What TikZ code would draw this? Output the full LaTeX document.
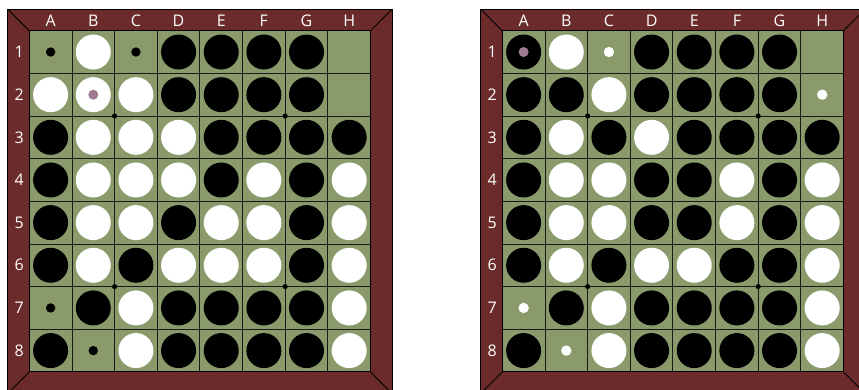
\documentclass[tikz,border=0pt]{standalone}
\usepackage{fontspec}
\setmainfont{Open Sans}
\definecolor{felt}{RGB}{138,154,107}
\definecolor{wood}{RGB}{107,43,43}
\definecolor{pinkdot}{RGB}{160,122,145}
\tikzset{
  frameline/.style={draw=black, line width=0.9pt},
  gridline/.style={draw=black!90, line width=0.9pt},
  lbl/.style={text=white, font=\fontsize{16}{16}\selectfont, inner sep=0pt, anchor=center},
}
\newcommand\othelloboard[3]{%
  \begin{scope}[shift={(#2,30.7)}]
    \def\cs{42.65}
    \fill[wood] (-21.5,-21.5) rectangle (362.7,362.7);
    \draw[frameline] (-21.5,-21.5) rectangle (362.7,362.7);
    \fill[felt] (0,0) rectangle (341.2,341.2);
    \foreach \i in {1,...,7} {
      \draw[gridline] ({\i*\cs},0) -- ({\i*\cs},341.2);
      \draw[gridline] (0,{\i*\cs}) -- (341.2,{\i*\cs});
    }
    \draw[frameline] (0,0) rectangle (341.2,341.2);
    \draw[frameline] (-21.5,-21.5) -- (0,0);
    \draw[frameline] (362.7,-21.5) -- (341.2,0);
    \draw[frameline] (-21.5,362.7) -- (0,341.2);
    \draw[frameline] (362.7,362.7) -- (341.2,341.2);
    \foreach \gx/\gy in {2/2,6/2,2/6,6/6}
      \fill[black] ({\gx*\cs},{\gy*\cs}) circle (2.6pt);
    \foreach \L [count=\c] in {A,B,C,D,E,F,G,H}
      \node[lbl] (#1-col\L) at ({(\c-0.5)*\cs},-10) {\L};
    \foreach \r in {1,...,8}
      \node[lbl] (#1-row\r) at (-10,{(\r-0.5)*\cs}) {\r};
    \foreach \row [count=\r] in {#3} {
      \foreach \v [count=\c] in \row {
        \coordinate (#1-\c-\r) at ({(\c-0.5)*\cs},{(\r-0.5)*\cs});
        \if b\v \fill[black] (#1-\c-\r) circle (17.5pt);\fi
        \if w\v \fill[white] (#1-\c-\r) circle (17.5pt);\fi
        \if d\v \fill[black] (#1-\c-\r) circle (4.7pt);\fi
        \if o\v \fill[white] (#1-\c-\r) circle (5.2pt);\fi
        \if p\v \fill[white] (#1-\c-\r) circle (17.5pt);
                \fill[pinkdot] (#1-\c-\r) circle (5pt);\fi
        \if q\v \fill[black] (#1-\c-\r) circle (17.5pt);
                \fill[pinkdot] (#1-\c-\r) circle (5pt);\fi
      }
    }
  \end{scope}}
\begin{document}
\begin{tikzpicture}[x=1pt,y=-1pt]
  \useasboundingbox (0,0) rectangle (859,389);
  \clip (0,0) rectangle (859,389);
  \othelloboard{L}{29.3}{{d,w,d,b,b,b,b,e},{w,p,w,b,b,b,b,e},{b,w,w,w,b,b,b,b},{b,w,w,w,b,w,b,w},{b,w,w,b,w,w,b,w},{b,w,b,w,w,w,b,w},{d,b,w,b,b,b,b,w},{b,d,w,b,b,b,b,w}}
  \othelloboard{R}{502.3}{{q,w,o,b,b,b,b,e},{b,b,w,b,b,b,b,o},{b,w,b,w,b,b,b,b},{b,w,w,b,b,w,b,w},{b,w,w,b,b,w,b,w},{b,w,b,w,w,b,b,w},{o,b,w,b,b,b,b,w},{b,o,w,b,b,b,b,w}}
\end{tikzpicture}
\end{document}
